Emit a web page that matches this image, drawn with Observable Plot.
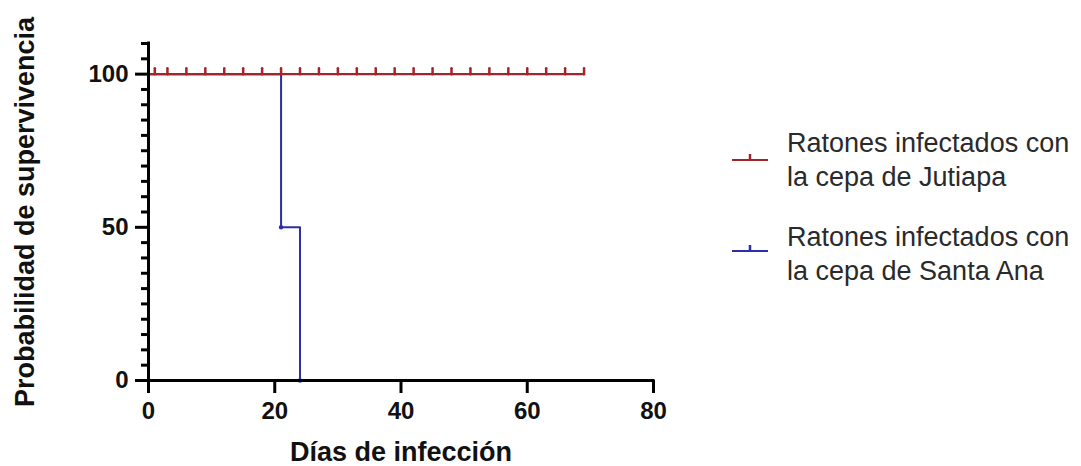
<!DOCTYPE html>
<html>
<head>
<meta charset="utf-8">
<script src="https://cdn.jsdelivr.net/npm/d3@7"></script>
<script src="https://cdn.jsdelivr.net/npm/@observablehq/plot@0.6"></script>
<style>
  html, body { margin: 0; padding: 0; background: #fff; }
  #wrap { position: relative; width: 1081px; height: 466px; overflow: hidden; }
  .lg-text { position: absolute; left: 787px; font-family: "Liberation Sans", Arial, sans-serif; font-size: 27px; line-height: 34px; color: #2a2a2a; white-space: nowrap; }
  .lg-sw { position: absolute; left: 730px; }
</style>
</head>
<body>
<div id="wrap"></div>
<script>
// ---- data ----
const seriesNames = ["Ratones infectados con la cepa de Jutiapa", "Ratones infectados con la cepa de Santa Ana"];
const seriesColors = ["#a2252b", "#2d2fa5"];
const legendLines = [["Ratones infectados con", "la cepa de Jutiapa"], ["Ratones infectados con", "la cepa de Santa Ana"]];

const jutiapaDays = [0, 69];
const jutiapaSurvival = [100, 100];
const jutiapaCensored = [1, 3, 6, 9, 12, 15, 18, 21, 24, 27, 30, 33, 36, 39, 42, 45, 48, 51, 54, 57, 60, 63, 66, 69];

const santaAnaDays = [0, 21, 24];
const santaAnaSurvival = [100, 50, 0];
const santaAnaEventDays = [21, 24];
const santaAnaEventSurvival = [50, 0];

const xTicks = [0, 20, 40, 60, 80];
const yTicks = [0, 50, 100];
const yMinorTicks = [5, 10, 15, 20, 25, 30, 35, 40, 45, 55, 60, 65, 70, 75, 80, 85, 90, 95, 105, 110];
const xDomain = [0, 80];
const yDomain = [0, 110];
const xLabel = "Días de infección";
const yLabel = "Probabilidad de supervivencia";

// ---- tables ----
const jutiapa = jutiapaDays.map((d, i) => ({day: d, s: jutiapaSurvival[i]}));
const jutiapaCens = jutiapaCensored.map(d => ({day: d, s: 100}));
const santaAna = santaAnaDays.map((d, i) => ({day: d, s: santaAnaSurvival[i]}));
const santaAnaEv = santaAnaEventDays.map((d, i) => ({day: d, s: santaAnaEventSurvival[i]}));

const upTick = { draw(context, l) { context.moveTo(0, 0); context.lineTo(0, -l); } };

const font = "'Liberation Sans', Arial, sans-serif";

const chart = Plot.plot({
  width: 1081,
  height: 466,
  marginLeft: 148,
  marginRight: 428,
  marginTop: 43,
  marginBottom: 86,
  style: { fontFamily: font, background: "transparent", overflow: "visible" },
  x: { domain: xDomain },
  y: { domain: yDomain },
  marks: [
    // series
    Plot.line(santaAna, { x: "day", y: "s", curve: "step-after", stroke: seriesColors[1], strokeWidth: 2 }),
    Plot.line(jutiapa, { x: "day", y: "s", stroke: seriesColors[0], strokeWidth: 2.2 }),
    Plot.vector(jutiapaCens, { x: "day", y: "s", length: 6, rotate: 0, anchor: "start", shape: upTick, stroke: seriesColors[0], strokeWidth: 2.5 }),
    Plot.dot(santaAnaEv, { x: "day", y: "s", r: 2.2, fill: seriesColors[1], stroke: null }),
    // axes
    Plot.axisY({ ticks: yMinorTicks, tickSize: 7, strokeWidth: 3, text: null, label: null }),
    Plot.axisY({ ticks: yTicks, tickSize: 13, strokeWidth: 3, tickPadding: 7, fontSize: 24, fontWeight: "bold", fill: "#111", label: null }),
    Plot.axisX({ ticks: xTicks, tickSize: 13, strokeWidth: 3, tickPadding: 8, fontSize: 24, fontWeight: "bold", fill: "#111", label: null }),
    Plot.ruleX([0], { stroke: "#000", strokeWidth: 3, strokeLinecap: "square" }),
    Plot.ruleY([0], { stroke: "#000", strokeWidth: 3, strokeLinecap: "square" }),
    // axis titles
    Plot.text([xLabel], { frameAnchor: "bottom", dy: 72, textAnchor: "middle", lineAnchor: "middle", fontSize: 27, fontWeight: "bold", fill: "#111" }),
    Plot.text([yLabel], { frameAnchor: "left", dx: -123, rotate: -90, textAnchor: "middle", lineAnchor: "middle", fontSize: 27, fontWeight: "bold", fill: "#111" })
  ]
});

const wrap = document.getElementById("wrap");
wrap.appendChild(chart);

// legend (HTML, to the right of the plot)
const tops = [126, 220];
const swatchY = [160, 251];
legendLines.forEach((lines, i) => {
  const t = document.createElement("div");
  t.className = "lg-text";
  t.style.top = tops[i] + "px";
  t.innerHTML = lines.join("<br>");
  t.title = seriesNames[i];
  wrap.appendChild(t);
  const sw = d3.create("svg").attr("class", "lg-sw").attr("width", 42).attr("height", 14)
    .style("top", (swatchY[i] - 10) + "px");
  sw.append("line").attr("x1", 2).attr("x2", 38).attr("y1", 10).attr("y2", 10)
    .attr("stroke", seriesColors[i]).attr("stroke-width", 2);
  sw.append("line").attr("x1", 20).attr("x2", 20).attr("y1", 10).attr("y2", 4)
    .attr("stroke", seriesColors[i]).attr("stroke-width", 2.5);
  wrap.appendChild(sw.node());
});
</script>
</body>
</html>
